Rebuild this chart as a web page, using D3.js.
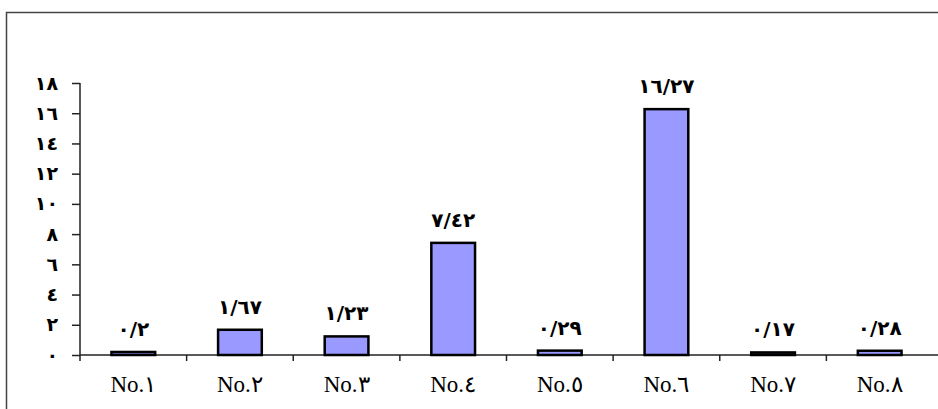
<!DOCTYPE html>
<html>
<head>
  <meta charset="utf-8">
  <script src="https://d3js.org/d3.v7.min.js"></script>
  <style>
    body { margin: 0; background: #fff; }
    svg { display: block; }
    .num { font-family: "DejaVu Sans", sans-serif; font-weight: bold; }
    .cat { font-family: "Liberation Serif", serif; }
  </style>
</head>
<body>
  <script>
    // chart data
    var categories = ["No.1", "No.2", "No.3", "No.4", "No.5", "No.6", "No.7", "No.8"];
    var values = [0.2, 1.67, 1.23, 7.42, 0.29, 16.27, 0.17, 0.28];
    var yTicks = [0, 2, 4, 6, 8, 10, 12, 14, 16, 18];

    var width = 938, height = 409;
    var plotLeft = 80, plotRight = 933, plotTop = 83, plotBottom = 355;

    // western digits -> arabic-indic, decimal point shown as "/"
    function arabic(s) {
      return String(s).replace(/[0-9]/g, function (d) {
        return String.fromCharCode(0x0660 + (+d));
      }).replace(".", "/");
    }

    var svg = d3.select("body").append("svg")
        .attr("width", width)
        .attr("height", height);

    // outer frame
    svg.append("rect")
      .attr("x", 6.5).attr("y", 12.5)
      .attr("width", 960).attr("height", 420)
      .attr("fill", "none")
      .attr("stroke", "#444")
      .attr("stroke-width", 1.5);

    var x = d3.scaleBand()
      .domain(categories)
      .range([plotLeft, plotRight])
      .paddingInner(0.59)
      .paddingOuter(0.295);

    var y = d3.scaleLinear()
      .domain([0, 18])
      .range([plotBottom, plotTop]);

    // y axis
    var yAxis = svg.append("g")
      .attr("transform", "translate(" + plotLeft + ",0)")
      .call(d3.axisLeft(y).tickValues(yTicks).tickSize(8).tickPadding(14)
        .tickFormat(arabic).tickSizeOuter(0));
    yAxis.select(".domain").remove();
    yAxis.append("line")
      .attr("y1", plotTop).attr("y2", plotBottom + 6)
      .attr("stroke", "#222").attr("stroke-width", 1.5);
    yAxis.selectAll(".tick line").attr("stroke", "#222").attr("stroke-width", 1.5);
    yAxis.selectAll(".tick text")
      .attr("class", "num")
      .style("font-size", "19px")
      .attr("fill", "#000");

    // x axis with ticks between categories
    var xg = svg.append("g");
    xg.append("line")
      .attr("x1", plotLeft).attr("x2", plotRight + 10)
      .attr("y1", plotBottom).attr("y2", plotBottom)
      .attr("stroke", "#222").attr("stroke-width", 1.5);
    xg.selectAll(".sep")
      .data(categories.slice(1))
      .enter().append("line")
      .attr("x1", function (d) { return x(d) - x.step() * x.paddingInner() / 2; })
      .attr("x2", function (d) { return x(d) - x.step() * x.paddingInner() / 2; })
      .attr("y1", plotBottom).attr("y2", plotBottom + 6)
      .attr("stroke", "#222").attr("stroke-width", 1.5);
    xg.selectAll(".cat")
      .data(categories)
      .enter().append("text")
      .attr("class", "cat")
      .attr("x", function (d) { return x(d) + x.bandwidth() / 2; })
      .attr("y", 392)
      .attr("text-anchor", "middle")
      .style("font-size", "23px")
      .text(function (d) { return "No." + arabic(d.slice(3)); });

    // bars
    svg.selectAll(".bar")
      .data(values)
      .enter().append("rect")
      .attr("x", function (d, i) { return x(categories[i]); })
      .attr("y", function (d) { return y(d); })
      .attr("width", x.bandwidth())
      .attr("height", function (d) { return y(0) - y(d); })
      .attr("fill", "#9999FF")
      .attr("stroke", "#000")
      .attr("stroke-width", 2.5);

    // value labels
    svg.selectAll(".val")
      .data(values)
      .enter().append("text")
      .attr("class", "num")
      .attr("x", function (d, i) { return x(categories[i]) + x.bandwidth() / 2; })
      .attr("y", function (d) { return y(d) - 16; })
      .attr("text-anchor", "middle")
      .style("font-size", "20px")
      .text(function (d) { return arabic(d); });
  </script>
</body>
</html>
